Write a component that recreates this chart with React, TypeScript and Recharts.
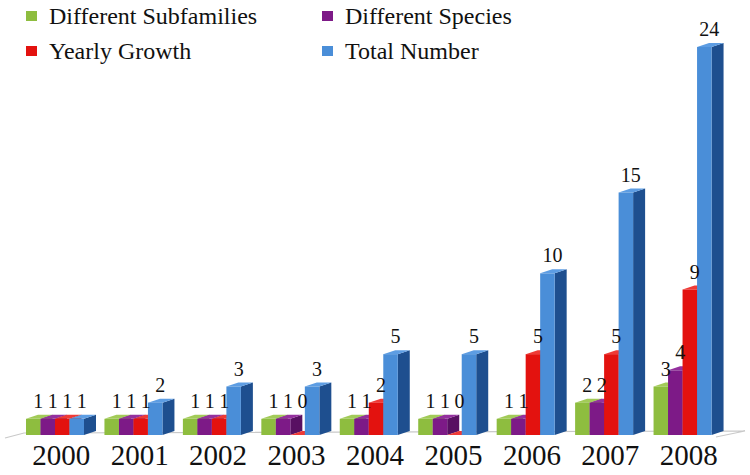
import { BarChart, Bar, XAxis, YAxis, LabelList } from 'recharts'

// valeurs
const years = ['2000', '2001', '2002', '2003', '2004', '2005', '2006', '2007', '2008']
const subfamilies = [1, 1, 1, 1, 1, 1, 1, 2, 3]
const species = [1, 1, 1, 1, 1, 1, 1, 2, 4]
const yearlyGrowth = [1, 1, 1, 0, 2, 0, 5, 5, 9]
const totalNumber = [1, 2, 3, 3, 5, 5, 10, 15, 24]

const data = years.map((year, i) => ({
  year,
  sub: subfamilies[i],
  spe: species[i],
  grow: yearlyGrowth[i],
  total: totalNumber[i],
}))

const SERIF = '"Liberation Serif", "Times New Roman", serif'
const DX = 12
const DY = 4
const MARGIN = { top: 47, right: 22, bottom: 0, left: 22 }

const SERIES = [
  { key: 'sub', name: 'Different Subfamilies', front: '#8ebd3f', side: '#6a9330', top: '#a2cb58' },
  { key: 'spe', name: 'Different Species', front: '#7d1a87', side: '#581062', top: '#94309e' },
  { key: 'grow', name: 'Yearly Growth', front: '#e3120f', side: '#a00a0a', top: '#ef3a36' },
  { key: 'total', name: 'Total Number', front: '#4a8ed8', side: '#1e4f8f', top: '#5d9de3' },
]

function bar3D(front: string, side: string, top: string) {
  return (props: any) => {
    const { x, y, width, height } = props
    if (x == null || y == null) return null
    const fx = x - DX / 2
    const bottom = y + height
    const topFace = `${fx},${y} ${fx + width},${y} ${fx + width + DX},${y - DY} ${fx + DX},${y - DY}`
    const sideFace = `${fx + width},${y} ${fx + width + DX},${y - DY} ${fx + width + DX},${bottom - DY} ${fx + width},${bottom}`
    return (
      <g>
        <polygon points={sideFace} fill={side} />
        <polygon points={topFace} fill={top} />
        {height > 0 && <rect x={fx} y={y} width={width} height={height} fill={front} />}
      </g>
    )
  }
}

function valueLabel(props: any) {
  const { x, y, width, value } = props
  const ly = value === 0 ? y - 27 : y - 11
  return (
    <text x={x + width / 2 - 1} y={ly} textAnchor="middle" fontFamily={SERIF} fontSize={20} fill="#111">
      {value}
    </text>
  )
}

function Floor() {
  return (
    <svg width={750} height={475} style={{ position: 'absolute', left: 0, top: 0 }}>
      <polyline points="5,438 24,433 745,431 716,437" fill="none" stroke="#c9c9c9" strokeWidth={1.2} />
    </svg>
  )
}

function LegendBox() {
  const item = (s: (typeof SERIES)[number], left: number, top: number) => (
    <div key={s.key} style={{ position: 'absolute', left, top, display: 'flex', alignItems: 'center', whiteSpace: 'nowrap' }}>
      <span style={{ width: 11, height: 10, background: s.front, display: 'inline-block', marginRight: 12 }} />
      <span style={{ fontFamily: SERIF, fontSize: 24, color: '#111', lineHeight: '28px' }}>{s.name}</span>
    </div>
  )
  return (
    <div style={{ position: 'absolute', left: 0, top: 0 }}>
      {item(SERIES[0], 26, 2)}
      {item(SERIES[1], 322, 2)}
      {item(SERIES[2], 26, 37)}
      {item(SERIES[3], 322, 37)}
    </div>
  )
}

export default function App() {
  return (
    <div style={{ position: 'absolute', left: 0, top: 0, width: 750, height: 475, background: '#fff' }}>
      <Floor />
      <div style={{ position: 'absolute', left: 0, top: 0 }}>
        <BarChart width={750} height={475} data={data} margin={MARGIN} barGap={0} barSize={14.5}>
          <XAxis
            dataKey="year"
            axisLine={false}
            tickLine={false}
            height={40}
            tickMargin={3}
            tick={{ fontSize: 29, fill: '#111', fontFamily: SERIF }}
            interval={0}
          />
          <YAxis hide domain={[0, 24]} />
          {SERIES.map((s) => (
            <Bar key={s.key} dataKey={s.key} name={s.name} isAnimationActive={false} shape={bar3D(s.front, s.side, s.top)}>
              <LabelList dataKey={s.key} content={valueLabel} />
            </Bar>
          ))}
        </BarChart>
      </div>
      <LegendBox />
    </div>
  )
}
